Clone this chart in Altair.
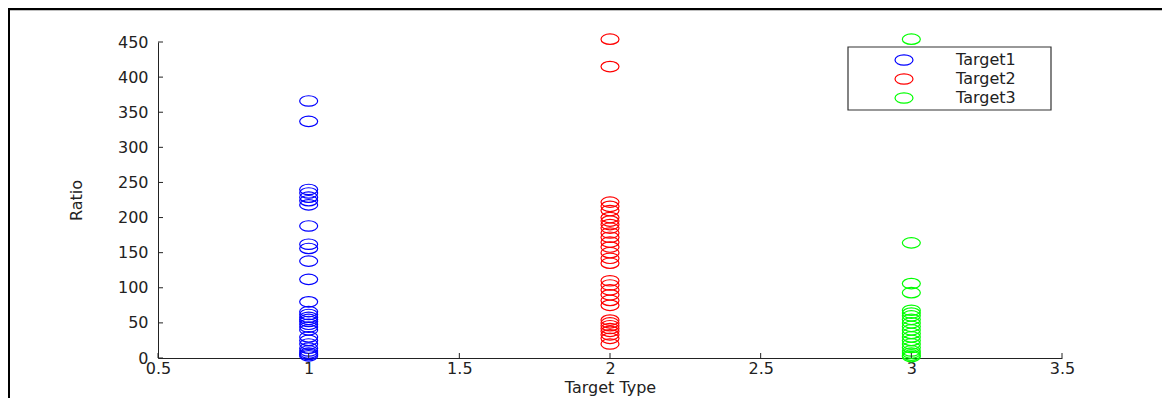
import altair as alt
import pandas as pd

# ---- data ----
series_names = ["Target1", "Target2", "Target3"]
target_types = [1, 2, 3]
series_colors = ["#0000FF", "#FF0000", "#00FF00"]

target1_ratio = [366, 337, 240, 235, 229, 224, 218, 188, 162, 156, 138, 112, 80,
                 66, 62, 58, 55, 52, 48, 44, 40, 30, 25, 20, 14, 10, 7, 5, 3]
target2_ratio = [454, 415, 222, 216, 210, 200, 195, 190, 185, 178, 172, 165, 158,
                 150, 142, 135, 110, 104, 97, 90, 82, 75, 54, 50, 46, 42, 38, 33, 28, 20]
target3_ratio = [454, 164, 106, 93, 68, 64, 60, 55, 50, 45, 40, 35, 30, 25, 20,
                 15, 10, 7, 4, 2]

x_ticks = [0.5, 1, 1.5, 2, 2.5, 3, 3.5]
y_ticks = [0, 50, 100, 150, 200, 250, 300, 350, 400, 450]

# ---- tables ----
rows = []
for name, t, vals in zip(series_names, target_types,
                         [target1_ratio, target2_ratio, target3_ratio]):
    for v in vals:
        rows.append({"Series": name, "Type": t, "Ratio": v})
df = pd.DataFrame(rows)
xtick_df = pd.DataFrame({"Type": x_ticks})
ytick_df = pd.DataFrame({"Ratio": y_ticks})
one_df = pd.DataFrame({"k": [0]})

W, H = 904, 316
FONT = "DejaVu Sans"
FS = 16
AXC = "#222222"

# ellipse-shaped open marker (cubic bezier approximation)
ELLIPSE = ("M -1 0 C -1 -0.32 -0.5523 -0.58 0 -0.58 C 0.5523 -0.58 1 -0.32 1 0 "
           "C 1 0.32 0.5523 0.58 0 0.58 C -0.5523 0.58 -1 0.32 -1 0 Z")

xscale = alt.Scale(domain=[0.5, 3.5], nice=False, zero=False)
yscale = alt.Scale(domain=[0, 450], nice=False)

x_axis = alt.Axis(values=x_ticks, format="~g", title="Target Type",
                  ticks=False, grid=False, domainColor=AXC,
                  labelColor=AXC, labelFont=FONT, labelFontSize=FS,
                  labelPadding=2, titleFont=FONT, titleFontSize=FS,
                  titleFontWeight="normal", titleColor=AXC,
                  titlePadding=3, labelFlush=False, labelOverlap=False)
y_axis = alt.Axis(values=y_ticks, title="Ratio", ticks=False, grid=False,
                  domainColor=AXC, labelColor=AXC, labelFont=FONT,
                  labelFontSize=FS, labelPadding=10, titleFont=FONT,
                  titleFontSize=FS, titleFontWeight="normal",
                  titleColor=AXC, titlePadding=33, labelFlush=False,
                  labelOverlap=False)

points = alt.Chart(df).mark_point(
    shape=ELLIPSE, filled=False, size=324, strokeWidth=1.2, opacity=1, clip=False
).encode(
    x=alt.X("Type:Q", scale=xscale, axis=x_axis),
    y=alt.Y("Ratio:Q", scale=yscale, axis=y_axis),
    color=alt.Color("Series:N",
                    scale=alt.Scale(domain=series_names, range=series_colors),
                    legend=alt.Legend(
                        title=None, orient="none", legendX=690, legendY=5,
                        symbolType=ELLIPSE, symbolSize=324, symbolFillColor="white",
                        symbolStrokeWidth=1.2, padding=3, symbolOffset=43,
                        labelOffset=42, rowPadding=1, labelFont=FONT,
                        labelFontSize=FS, labelColor=AXC)),
)

# legend frame (decoration)
legend_box = alt.Chart(one_df).mark_rect(
    fill="white", stroke="#333333", strokeWidth=1.2, clip=False
).encode(
    x=alt.value(690), x2=alt.value(893), y=alt.value(5), y2=alt.value(68)
)

yticks = alt.Chart(ytick_df).mark_rule(color=AXC, strokeWidth=1).encode(
    y=alt.Y("Ratio:Q", scale=yscale, axis=y_axis),
    x=alt.value(0), x2=alt.value(5),
)
xticks = alt.Chart(xtick_df).mark_rule(color=AXC, strokeWidth=1).encode(
    x=alt.X("Type:Q", scale=xscale, axis=x_axis),
    y=alt.value(H), y2=alt.value(H - 5),
)

frame_top = alt.Chart(one_df).mark_rule(color="black", strokeWidth=2.5, clip=False).encode(
    x=alt.value(-149), x2=alt.value(1100), y=alt.value(-33)
)
frame_left = alt.Chart(one_df).mark_rule(color="black", strokeWidth=2, clip=False).encode(
    x=alt.value(-149), y=alt.value(-34), y2=alt.value(400)
)

chart = alt.layer(points, legend_box, frame_top, frame_left, yticks, xticks).properties(
    width=W, height=H,
    autosize=alt.AutoSizeParams(type="none"),
    padding={"left": 150, "top": 34, "right": 100, "bottom": 40},
    background="white",
).configure_view(stroke=None)

chart.save("out.html", embed_options={"renderer": "svg", "actions": False})
